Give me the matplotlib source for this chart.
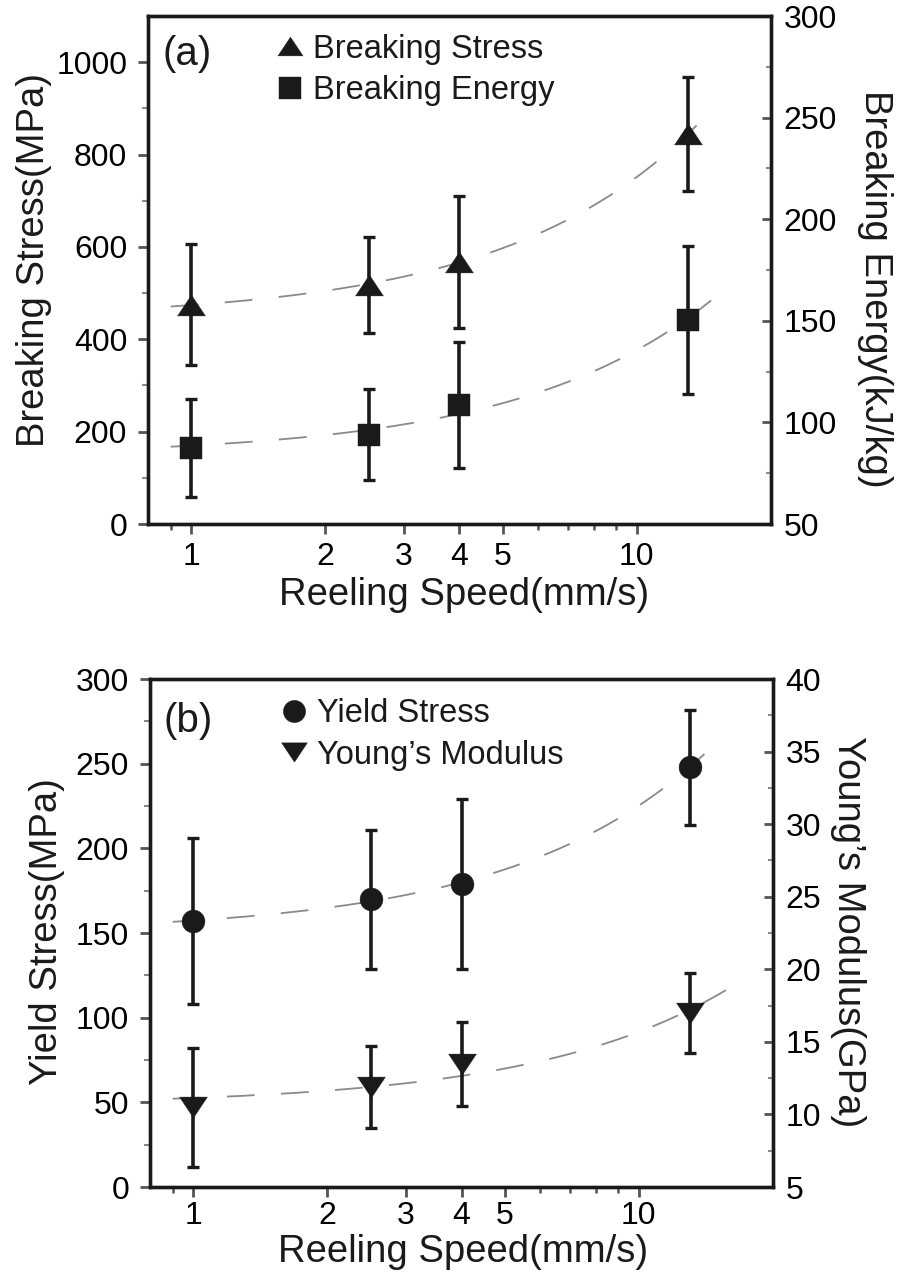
import numpy as np
import matplotlib
matplotlib.use('Agg')
import matplotlib.pyplot as plt
from matplotlib.lines import Line2D
from matplotlib.ticker import FixedLocator, FixedFormatter, NullFormatter, MultipleLocator

plt.rcParams['font.family'] = ['Liberation Sans', 'DejaVu Sans']
plt.rcParams['lines.scale_dashes'] = False

# ---------------- data ----------------
speed = [1, 2.5, 4, 13]

breaking_stress = [475, 518, 568, 844]
breaking_stress_err = [131, 104, 143, 123]
breaking_energy = [87.5, 94, 108.5, 150.5]
breaking_energy_err = [24, 22.5, 31, 36.5]

yield_stress = [157, 170, 179, 248]
yield_stress_err = [49, 41, 50, 34]
youngs_modulus = [10.5, 11.9, 13.5, 17.0]
youngs_modulus_err = [4.1, 2.8, 2.9, 2.75]

xtick_major = [1, 2, 3, 4, 5, 10]
xtick_labels = ['1', '2', '3', '4', '5', '10']
xtick_minor = [0.9, 6, 7, 8, 9]

# ---------------- style ----------------
DARK = '#1a1a1a'
GRAY = '#8a8a8a'
TICK_FS = 23
LABEL_FS = 27.5
LEG_FS = 23.5
SPINE_LW = 2.4

tri_up = [(-1, -0.75), (1, -0.75), (0, 0.75), (-1, -0.75)]
tri_dn = [(-1, 0.75), (1, 0.75), (0, -0.75), (-1, 0.75)]

fig = plt.figure(figsize=(8.97, 12.75), dpi=100)
axA = fig.add_axes([0.1650, 0.5890, 0.6945, 0.3984])
axB = fig.add_axes([0.1672, 0.0690, 0.6946, 0.3984])


def style_axes(ax, ax2, xpad):
    ax.set_xscale('log')
    ax.set_xlim(0.8, 20)
    ax.xaxis.set_major_locator(FixedLocator(xtick_major))
    ax.xaxis.set_major_formatter(FixedFormatter(xtick_labels))
    ax.xaxis.set_minor_locator(FixedLocator(xtick_minor))
    ax.xaxis.set_minor_formatter(NullFormatter())
    for a in (ax, ax2):
        for s in a.spines.values():
            s.set_linewidth(SPINE_LW)
            s.set_color(DARK)
    ax.tick_params(axis='x', which='major', direction='out', length=7, width=2,
                   color='#555555', labelsize=TICK_FS, pad=xpad, top=False)
    ax.tick_params(axis='x', which='minor', direction='out', length=4.5, width=1.8,
                   color='#555555', top=False)
    ax.tick_params(axis='y', which='major', direction='out', length=7, width=2,
                   color='#555555', labelsize=TICK_FS, pad=8, right=False)
    ax.tick_params(axis='y', which='minor', direction='out', length=4, width=1.5,
                   color='#8a8a8a', right=False)
    ax2.tick_params(axis='y', which='major', direction='in', length=6.5, width=2,
                    color='#555555', labelsize=TICK_FS, pad=9, left=False)
    ax2.tick_params(axis='y', which='minor', direction='in', length=3.5, width=1.5,
                    color='#8a8a8a', left=False)


def draw(ax, y, yerr, marker, ms, fit_end):
    coef = np.polyfit(speed, y, 1)
    xf = np.linspace(0.9, fit_end, 200)
    ax.plot(xf, np.polyval(coef, xf), color=GRAY, lw=1.3, dashes=(20, 19), zorder=1)
    ax.errorbar(speed, y, yerr=yerr, fmt='none', ecolor=DARK, elinewidth=2.6,
                capsize=4.5, capthick=2.4, zorder=2)
    ax.plot(speed, y, linestyle='none', marker=marker, ms=ms, color=DARK,
            mec=DARK, mew=0.3, zorder=3)


# ---------------- panel (a) ----------------
axA2 = axA.twinx()
style_axes(axA, axA2, xpad=6)
axA.set_ylim(0, 1100)
axA.yaxis.set_major_locator(FixedLocator([0, 200, 400, 600, 800, 1000]))
axA.yaxis.set_minor_locator(FixedLocator([100, 300, 500, 700, 900]))
axA2.set_ylim(50, 300)
axA2.yaxis.set_major_locator(MultipleLocator(50))
axA2.yaxis.set_minor_locator(FixedLocator([75, 125, 175, 225, 275]))

draw(axA, breaking_stress, breaking_stress_err, tri_up, 20, 14.4)
draw(axA2, breaking_energy, breaking_energy_err, 's', 16.5, 14.7)

axA.set_xlabel('Reeling Speed(mm/s)', fontsize=LABEL_FS, color=DARK)
axA.xaxis.set_label_coords(0.507, -0.104)
axA.text(-0.183, 0.52, 'Breaking Stress(MPa)', transform=axA.transAxes,
         rotation=90, ha='center', va='center', fontsize=LABEL_FS, color=DARK)
axA.text(1.167, 0.463, 'Breaking Energy(kJ/kg)', transform=axA.transAxes,
         rotation=270, ha='center', va='center', fontsize=LABEL_FS, color=DARK)
axA.text(0.024, 0.925, '(a)', transform=axA.transAxes, ha='left', va='center',
         fontsize=29, color=DARK)

hA = [Line2D([], [], ls='none', marker=tri_up, ms=18, color=DARK, mew=0.3),
      Line2D([], [], ls='none', marker='s', ms=16, color=DARK, mew=0.3)]
axA2.legend(hA, ['Breaking Stress', 'Breaking Energy'], loc='upper left',
            bbox_to_anchor=(0.207, 0.965), frameon=False, fontsize=LEG_FS,
            handlelength=0.8, handletextpad=0.3, labelspacing=0.32,
            borderpad=0, borderaxespad=0, numpoints=1, labelcolor=DARK)

# ---------------- panel (b) ----------------
axB2 = axB.twinx()
style_axes(axB, axB2, xpad=3)
axB.set_ylim(0, 300)
axB.yaxis.set_major_locator(MultipleLocator(50))
axB.yaxis.set_minor_locator(FixedLocator([25, 75, 125, 175, 225, 275]))
axB2.set_ylim(5, 40)
axB2.yaxis.set_major_locator(MultipleLocator(5))
axB2.yaxis.set_minor_locator(FixedLocator([7.5, 12.5, 17.5, 22.5, 27.5, 32.5, 37.5]))

draw(axB, yield_stress, yield_stress_err, 'o', 16.5, 14.5)
draw(axB2, youngs_modulus, youngs_modulus_err, tri_dn, 20, 15.9)

axB.set_xlabel('Reeling Speed(mm/s)', fontsize=LABEL_FS, color=DARK)
axB.xaxis.set_label_coords(0.503, -0.093)
axB.text(-0.165, 0.503, 'Yield Stress(MPa)', transform=axB.transAxes,
         rotation=90, ha='center', va='center', fontsize=LABEL_FS, color=DARK)
axB.text(1.12, 0.503, 'Young\u2019s Modulus(GPa)', transform=axB.transAxes,
         rotation=270, ha='center', va='center', fontsize=LABEL_FS, color=DARK)
axB.text(0.021, 0.918, '(b)', transform=axB.transAxes, ha='left', va='center',
         fontsize=29, color=DARK)

hB = [Line2D([], [], ls='none', marker='o', ms=16, color=DARK, mew=0.3),
      Line2D([], [], ls='none', marker=tri_dn, ms=18.5, color=DARK, mew=0.3)]
axB2.legend(hB, ['Yield Stress', 'Young\u2019s Modulus'], loc='upper left',
            bbox_to_anchor=(0.21, 0.962), frameon=False, fontsize=LEG_FS,
            handlelength=0.8, handletextpad=0.3, labelspacing=0.32,
            borderpad=0, borderaxespad=0, numpoints=1, labelcolor=DARK)

fig.savefig('out.png', dpi=100)
